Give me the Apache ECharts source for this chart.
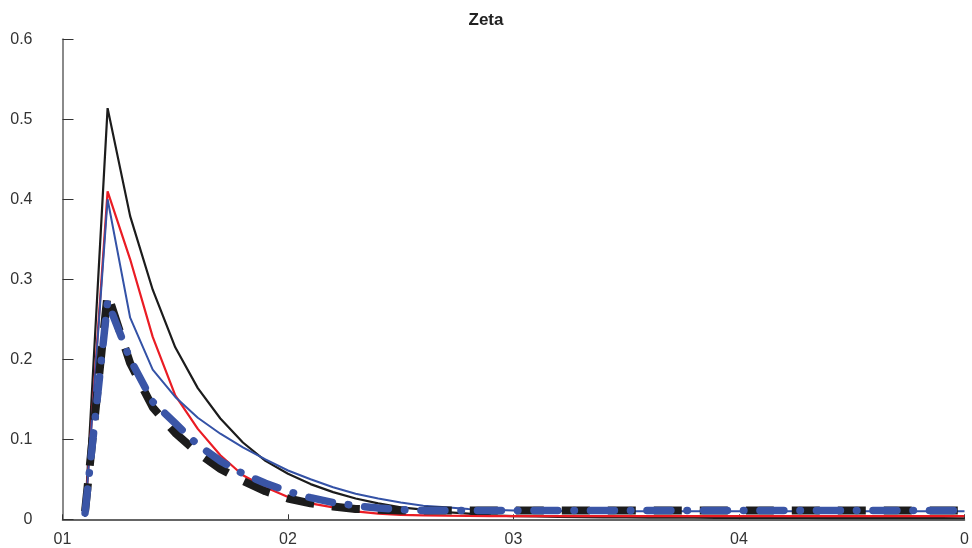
<!DOCTYPE html>
<html>
<head>
<meta charset="utf-8">
<script src="https://cdn.jsdelivr.net/npm/echarts@6/dist/echarts.min.js"></script>
<style>
  html, body { margin: 0; padding: 0; background: #fff; }
  #chart { width: 972px; height: 548px; }
</style>
</head>
<body>
<div id="chart"></div>
<script>
// Periods 1..40 on the horizontal axis, tick labels every 10 periods
const periods = Array.from({ length: 40 }, (_, k) => k + 1);
const xTickLabels = ['01', '02', '03', '04', '0'];

// Impulse responses of Zeta (one value per period)
const blackSolid = [0.003, 0.514, 0.379, 0.287, 0.215, 0.164, 0.126, 0.096, 0.073, 0.057,
  0.044, 0.034, 0.026, 0.020, 0.015, 0.012, 0.009, 0.007, 0.005, 0.004,
  0.0035, 0.003, 0.0028, 0.0025, 0.0023, 0.002, 0.002, 0.002, 0.0018, 0.0018,
  0.0017, 0.0016, 0.0016, 0.0015, 0.0015, 0.0015, 0.0014, 0.0014, 0.0014, 0.0013];
const redSolid = [0.004, 0.410, 0.325, 0.228, 0.155, 0.113, 0.080, 0.055, 0.040, 0.028,
  0.020, 0.015, 0.010, 0.007, 0.0055, 0.005, 0.0045, 0.0042, 0.004, 0.004,
  0.004, 0.004, 0.004, 0.004, 0.004, 0.004, 0.004, 0.004, 0.004, 0.004,
  0.004, 0.004, 0.004, 0.004, 0.004, 0.004, 0.004, 0.004, 0.004, 0.004];
const blueSolid = [0.003, 0.400, 0.252, 0.187, 0.153, 0.127, 0.107, 0.090, 0.075, 0.061,
  0.050, 0.040, 0.032, 0.026, 0.021, 0.017, 0.015, 0.013, 0.012, 0.011,
  0.011, 0.0105, 0.0103, 0.010, 0.010, 0.010, 0.010, 0.010, 0.010, 0.010,
  0.010, 0.010, 0.010, 0.010, 0.010, 0.010, 0.010, 0.010, 0.010, 0.010];
const blackDashed = [0.010, 0.282, 0.195, 0.140, 0.108, 0.083, 0.063, 0.048, 0.035, 0.026,
  0.020, 0.016, 0.013, 0.012, 0.011, 0.011, 0.011, 0.011, 0.011, 0.011,
  0.011, 0.011, 0.011, 0.011, 0.011, 0.011, 0.011, 0.011, 0.011, 0.011,
  0.011, 0.011, 0.011, 0.011, 0.011, 0.011, 0.011, 0.011, 0.011, 0.011];
const blueDashDot = [0.008, 0.272, 0.200, 0.147, 0.120, 0.093, 0.073, 0.057, 0.045, 0.035,
  0.027, 0.021, 0.017, 0.014, 0.012, 0.011, 0.011, 0.011, 0.011, 0.011,
  0.011, 0.011, 0.011, 0.011, 0.011, 0.011, 0.011, 0.011, 0.011, 0.011,
  0.011, 0.011, 0.011, 0.011, 0.011, 0.011, 0.011, 0.011, 0.011, 0.011];

const FONT = '"Liberation Sans", Arial, sans-serif';
const pairs = (vals) => vals.map((v, k) => [periods[k], v]);

function lineSeries(name, vals, style, z) {
  return {
    name: name,
    type: 'line',
    data: pairs(vals),
    showSymbol: false,
    symbol: 'none',
    smooth: false,
    z: z,
    lineStyle: style,
    emphasis: { disabled: true }
  };
}

const chart = echarts.init(document.getElementById('chart'), null, { renderer: 'canvas' });
chart.setOption({
  animation: false,
  backgroundColor: '#ffffff',
  title: {
    text: 'Zeta',
    left: 'center',
    top: 7,
    textStyle: { fontFamily: FONT, fontSize: 17, fontWeight: 'bold', color: '#222' }
  },
  grid: { left: 62.5, right: 7.5, top: 39.3, bottom: 28.7, containLabel: false },
  xAxis: {
    type: 'value',
    min: 0,
    max: 40,
    interval: 10,
    axisLine: { show: true, onZero: false, lineStyle: { color: '#333', width: 1.5 } },
    axisTick: { show: true, inside: true, length: 5, lineStyle: { color: '#333', width: 1 } },
    axisLabel: {
      margin: 12,
      fontFamily: FONT,
      fontSize: 16,
      color: '#333',
      formatter: (v) => xTickLabels[Math.round(v / 10)]
    },
    splitLine: { show: false }
  },
  yAxis: {
    type: 'value',
    min: 0,
    max: 0.6,
    interval: 0.1,
    axisLine: { show: true, lineStyle: { color: '#8a8a8a', width: 2 } },
    axisTick: { show: true, inside: true, length: 11, lineStyle: { color: '#333', width: 1 } },
    axisLabel: {
      margin: 30,
      fontFamily: FONT,
      fontSize: 16,
      color: '#333',
      formatter: (v) => (Math.abs(v) < 1e-9 ? '0' : v.toFixed(1))
    },
    splitLine: { show: false }
  },
  series: [
    lineSeries('blackSolid', blackSolid, { color: '#1c1c1c', width: 2.2, type: 'solid' }, 2),
    lineSeries('redSolid', redSolid, { color: '#ea1c24', width: 2.2, type: 'solid' }, 3),
    lineSeries('blueSolid', blueSolid, { color: '#3452a6', width: 2, type: 'solid' }, 4),
    lineSeries('blackDashed', blackDashed, { color: '#1c1c1c', width: 8, type: [28, 18], cap: 'butt' }, 5),
    lineSeries('blueDashDot', blueDashDot, { color: '#3a55a6', width: 7.5, type: [24, 16, 0.5, 16], cap: 'round' }, 6)
  ]
});
</script>
</body>
</html>
